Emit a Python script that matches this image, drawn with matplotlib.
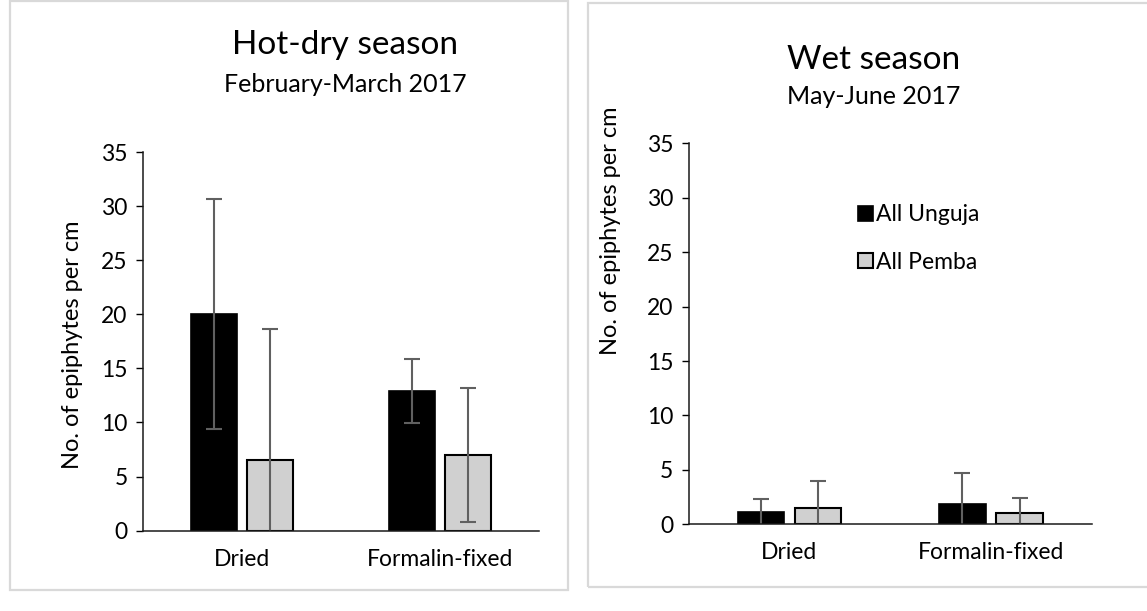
## import libraries ##
import matplotlib.pyplot as plt
import numpy as np
from matplotlib.patches import Rectangle

plt.rcParams['font.family'] = ['Lato', 'DejaVu Sans']

## data ##
methods = ['Dried', 'Formalin-fixed']
series = ['All Unguja', 'All Pemba']

hot_unguja = [20.0, 12.9]
hot_unguja_sd = [10.65, 2.95]
hot_pemba = [6.5, 6.95]
hot_pemba_sd = [12.1, 6.2]

wet_unguja = [1.1, 1.85]
wet_unguja_sd = [1.25, 2.85]
wet_pemba = [1.5, 1.0]
wet_pemba_sd = [2.45, 1.45]

titles = ['Hot-dry season', 'Wet season']
subtitles = ['February-March 2017', 'May-June 2017']
y_ticks = [0, 5, 10, 15, 20, 25, 30, 35]

## figure ##
fig = plt.figure(figsize=(11.47, 6.11), dpi=100)

# light grey frames around each chart
frame_kw = dict(transform=fig.transFigure, fill=False, edgecolor='#d9d9d9', linewidth=1.6)
fig.patches.append(Rectangle((9.5/1147, 1 - 590/611), 558/1147, 589/611, **frame_kw))
fig.patches.append(Rectangle((588/1147, 1 - 587/611), 570/1147, 584/611, **frame_kw))

ax1 = fig.add_axes([143/1147, 1 - 530.6/611, 396/1147, 378.6/611])
ax2 = fig.add_axes([688.7/1147, 1 - 524.3/611, 403/1147, 381/611])

x = np.arange(len(methods))
bar_width = 0.23
offset = 0.142
err_kw = dict(ecolor='#606060', elinewidth=1.5, capsize=6, capthick=1.5)


def draw_panel(ax, unguja, unguja_sd, pemba, pemba_sd):
    ax.bar(x - offset, unguja, bar_width, yerr=unguja_sd, color='black',
           edgecolor='black', linewidth=1.2, label=series[0], error_kw=err_kw)
    ax.bar(x + offset, pemba, bar_width, yerr=pemba_sd, color='#d0d0d0',
           edgecolor='black', linewidth=1.5, label=series[1], error_kw=err_kw)
    ax.set_xlim(-0.5, 1.5)
    ax.set_ylim(0, 35)
    ax.set_yticks(y_ticks)
    ax.set_xticks(x)
    ax.set_xticklabels(methods)
    ax.tick_params(axis='y', length=5, width=1, direction='out', labelsize=16.5, pad=6, colors='black')
    ax.tick_params(axis='x', length=0, labelsize=16.5, pad=13)
    for side in ['top', 'right']:
        ax.spines[side].set_visible(False)
    for side in ['left', 'bottom']:
        ax.spines[side].set_linewidth(1.1)
        ax.spines[side].set_color('#1a1a1a')
    ax.set_ylabel('No. of epiphytes per cm', fontsize=17)


draw_panel(ax1, hot_unguja, hot_unguja_sd, hot_pemba, hot_pemba_sd)
draw_panel(ax2, wet_unguja, wet_unguja_sd, wet_pemba, wet_pemba_sd)
ax1.yaxis.set_label_coords(-0.152, 0.49)
ax2.yaxis.set_label_coords(-0.167, 0.77)

ax2.legend(loc='upper left', bbox_to_anchor=(0.42, 0.84), frameon=False, fontsize=16.5,
           borderpad=0, borderaxespad=0, handlelength=0.65, handleheight=0.65,
           handletextpad=0.12, labelspacing=1.15)

## titles ##
fig.text(345/1147, 1 - 45/611, titles[0], ha='center', va='center', fontsize=24)
fig.text(345/1147, 1 - 85/611, subtitles[0], ha='center', va='center', fontsize=18)
fig.text(874/1147, 1 - 60/611, titles[1], ha='center', va='center', fontsize=24)
fig.text(874/1147, 1 - 97/611, subtitles[1], ha='center', va='center', fontsize=18)

## save chart ##
fig.savefig('out.png', dpi=100)
